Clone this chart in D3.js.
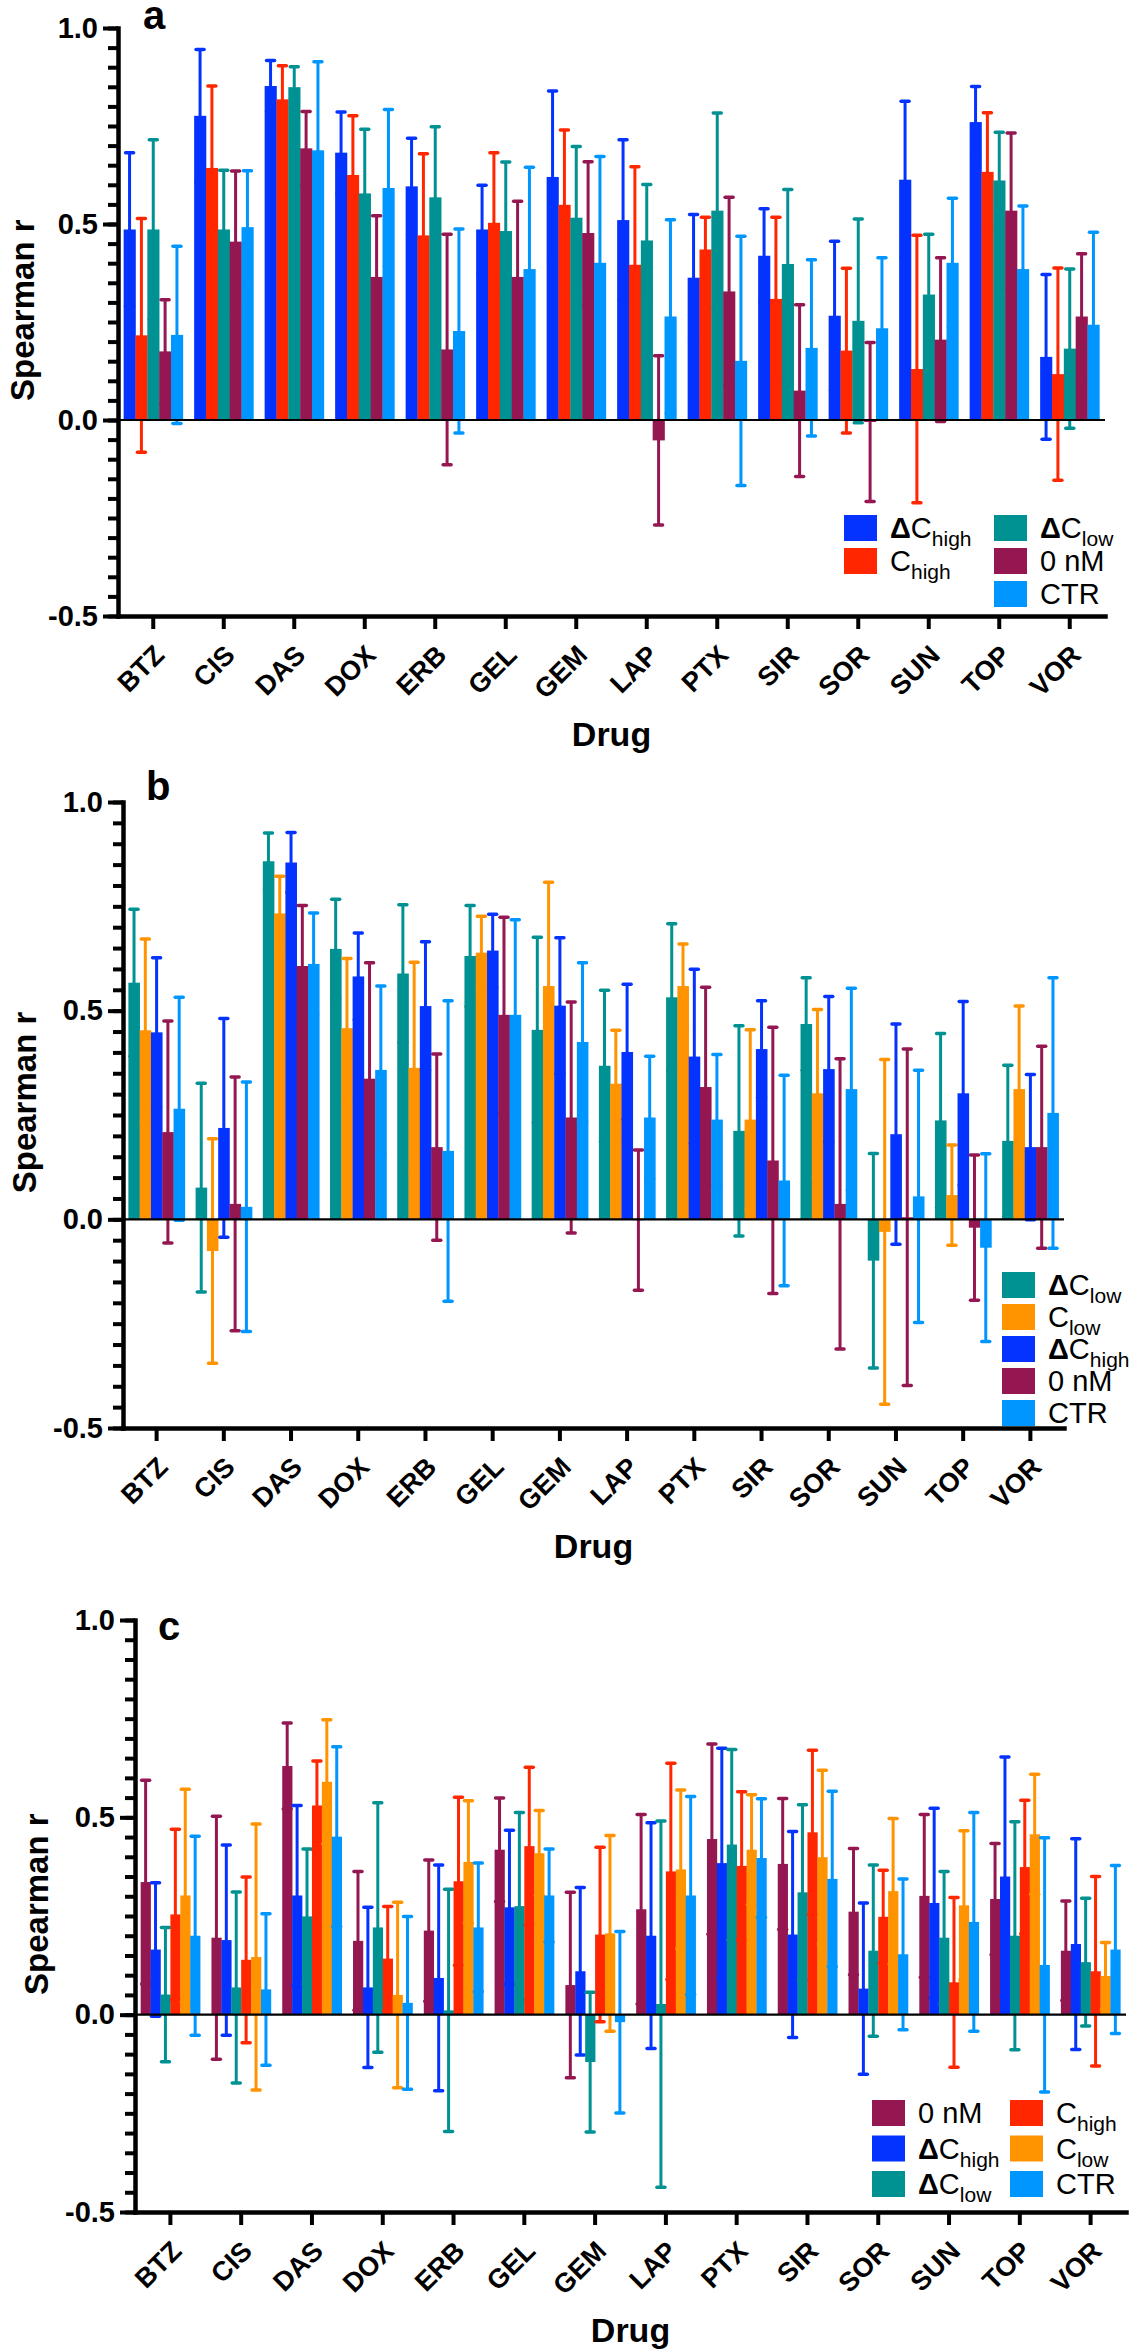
<!DOCTYPE html>
<html lang="en">
<head>
<meta charset="utf-8">
<script src="https://d3js.org/d3.v7.min.js"></script>
<title>Spearman r by drug</title>
<style>
  body { margin: 0; background: #fff; }
  text { font-family: "Liberation Sans", Arial, sans-serif; }
</style>
</head>
<body>
<div id="chart"></div>
<script>
// categories
const drugs = ["BTZ", "CIS", "DAS", "DOX", "ERB", "GEL", "GEM", "LAP", "PTX", "SIR", "SOR", "SUN", "TOP", "VOR"];
const yTicks = [-0.5, 0, 0.5, 1.0];

// panel a
const a_dChigh     = [0.486, 0.776, 0.852, 0.682, 0.596, 0.486, 0.620, 0.510, 0.363, 0.419, 0.266, 0.613, 0.760, 0.161];
const a_dChigh_err = [0.196, 0.169, 0.065, 0.104, 0.123, 0.113, 0.219, 0.205, 0.161, 0.120, 0.190, 0.200, 0.091, 0.210];
const a_Chigh      = [0.216, 0.643, 0.818, 0.625, 0.471, 0.503, 0.549, 0.396, 0.435, 0.309, 0.177, 0.130, 0.633, 0.117];
const a_Chigh_err  = [0.298, 0.209, 0.086, 0.151, 0.208, 0.179, 0.191, 0.250, 0.082, 0.208, 0.210, 0.341, 0.151, 0.271];
const a_dClow      = [0.486, 0.486, 0.849, 0.578, 0.568, 0.482, 0.516, 0.458, 0.534, 0.398, 0.253, 0.320, 0.611, 0.182];
const a_dClow_err  = [0.229, 0.151, 0.052, 0.164, 0.180, 0.176, 0.182, 0.143, 0.249, 0.190, 0.260, 0.154, 0.123, 0.203];
const a_nM0        = [0.175, 0.455, 0.693, 0.365, 0.180, 0.365, 0.477, -0.052, 0.328, 0.075, -0.005, 0.205, 0.534, 0.264];
const a_nM0_err    = [0.132, 0.180, 0.094, 0.156, 0.294, 0.193, 0.182, 0.216, 0.240, 0.219, 0.203, 0.209, 0.198, 0.160];
const a_CTR        = [0.217, 0.492, 0.688, 0.592, 0.227, 0.385, 0.401, 0.264, 0.151, 0.184, 0.234, 0.401, 0.385, 0.243];
const a_CTR_err    = [0.226, 0.144, 0.226, 0.200, 0.260, 0.260, 0.271, 0.247, 0.318, 0.225, 0.180, 0.165, 0.161, 0.236];

// panel b
const b_dClow      = [0.567, 0.076, 0.858, 0.648, 0.589, 0.631, 0.454, 0.368, 0.532, 0.212, 0.468, -0.099, 0.237, 0.188];
const b_dClow_err  = [0.176, 0.250, 0.068, 0.119, 0.165, 0.121, 0.222, 0.181, 0.176, 0.252, 0.111, 0.257, 0.208, 0.181];
const b_Clow       = [0.453, -0.076, 0.733, 0.458, 0.363, 0.639, 0.559, 0.325, 0.559, 0.239, 0.302, -0.030, 0.058, 0.312];
const b_Clow_err   = [0.219, 0.269, 0.089, 0.167, 0.253, 0.087, 0.249, 0.128, 0.101, 0.215, 0.201, 0.413, 0.120, 0.199];
const b_dChigh     = [0.448, 0.219, 0.855, 0.582, 0.511, 0.644, 0.512, 0.401, 0.390, 0.408, 0.360, 0.204, 0.302, 0.173];
const b_dChigh_err = [0.179, 0.262, 0.072, 0.104, 0.154, 0.087, 0.163, 0.162, 0.209, 0.116, 0.174, 0.264, 0.220, 0.174];
const b_nM0        = [0.209, 0.037, 0.607, 0.337, 0.173, 0.490, 0.244, -0.002, 0.317, 0.141, 0.037, 0.005, -0.020, 0.173];
const b_nM0_err    = [0.266, 0.304, 0.145, 0.278, 0.223, 0.234, 0.277, 0.168, 0.239, 0.319, 0.348, 0.403, 0.174, 0.242];
const b_CTR        = [0.265, 0.030, 0.612, 0.358, 0.164, 0.490, 0.425, 0.244, 0.239, 0.093, 0.312, 0.055, -0.068, 0.255];
const b_CTR_err    = [0.267, 0.299, 0.122, 0.201, 0.360, 0.228, 0.190, 0.147, 0.156, 0.252, 0.242, 0.302, 0.225, 0.324];

// panel c
const c_nM0        = [0.336, 0.195, 0.630, 0.187, 0.213, 0.418, 0.075, 0.267, 0.445, 0.382, 0.261, 0.301, 0.293, 0.162];
const c_nM0_err    = [0.258, 0.308, 0.109, 0.176, 0.179, 0.131, 0.235, 0.240, 0.241, 0.166, 0.160, 0.206, 0.141, 0.126];
const c_dChigh     = [0.165, 0.189, 0.302, 0.069, 0.093, 0.272, 0.110, 0.200, 0.384, 0.203, 0.066, 0.283, 0.350, 0.179];
const c_dChigh_err = [0.169, 0.241, 0.228, 0.203, 0.286, 0.195, 0.212, 0.286, 0.291, 0.261, 0.217, 0.240, 0.303, 0.267];
const c_dClow      = [0.051, 0.069, 0.249, 0.221, 0.011, 0.275, -0.120, 0.027, 0.431, 0.310, 0.162, 0.195, 0.200, 0.133];
const c_dClow_err  = [0.170, 0.242, 0.171, 0.316, 0.307, 0.237, 0.177, 0.464, 0.241, 0.222, 0.217, 0.168, 0.289, 0.162];
const c_Chigh      = [0.254, 0.139, 0.530, 0.142, 0.338, 0.427, 0.203, 0.363, 0.377, 0.462, 0.248, 0.082, 0.374, 0.110];
const c_Chigh_err  = [0.216, 0.210, 0.113, 0.132, 0.213, 0.200, 0.221, 0.274, 0.188, 0.208, 0.118, 0.215, 0.169, 0.240];
const c_Clow       = [0.302, 0.146, 0.590, 0.050, 0.387, 0.409, 0.206, 0.368, 0.418, 0.399, 0.313, 0.277, 0.457, 0.098];
const c_Clow_err   = [0.269, 0.337, 0.157, 0.235, 0.155, 0.108, 0.248, 0.201, 0.139, 0.220, 0.184, 0.189, 0.152, 0.085];
const c_CTR        = [0.200, 0.064, 0.451, 0.030, 0.221, 0.302, -0.019, 0.302, 0.397, 0.344, 0.153, 0.235, 0.126, 0.165];
const c_CTR_err    = [0.252, 0.192, 0.228, 0.219, 0.163, 0.118, 0.230, 0.251, 0.150, 0.222, 0.191, 0.277, 0.322, 0.213];

var colors = {
  nM0: "#941751", dChigh: "#0433ff", Chigh: "#ff2600",
  dClow: "#009193", Clow: "#ff9300", CTR: "#0096ff"
};
// [delta?, main, subscript]
var names = {
  nM0: [false, "0 nM", ""], dChigh: [true, "C", "high"], Chigh: [false, "C", "high"],
  dClow: [true, "C", "low"], Clow: [false, "C", "low"], CTR: [false, "CTR", ""]
};

var panels = [
  { letter: "a", left: 118, right: 1105, top: 28, bottom: 616, letterX: 143, letterY: 29, ylabX: 22,
    series: [["dChigh", a_dChigh, a_dChigh_err], ["Chigh", a_Chigh, a_Chigh_err], ["dClow", a_dClow, a_dClow_err],
             ["nM0", a_nM0, a_nM0_err], ["CTR", a_CTR, a_CTR_err]],
    legend: [{ x: 844, y: 515, step: 33, items: ["dChigh", "Chigh"] }, { x: 994, y: 515, step: 33, items: ["dClow", "nM0", "CTR"] }] },
  { letter: "b", left: 123, right: 1064, top: 802, bottom: 1428, letterX: 146, letterY: 800, ylabX: 24,
    series: [["dClow", b_dClow, b_dClow_err], ["Clow", b_Clow, b_Clow_err], ["dChigh", b_dChigh, b_dChigh_err],
             ["nM0", b_nM0, b_nM0_err], ["CTR", b_CTR, b_CTR_err]],
    legend: [{ x: 1002, y: 1272, step: 32, items: ["dClow", "Clow", "dChigh", "nM0", "CTR"] }] },
  { letter: "c", left: 135, right: 1126, top: 1620, bottom: 2212, letterX: 158, letterY: 1640, ylabX: 36,
    series: [["nM0", c_nM0, c_nM0_err], ["dChigh", c_dChigh, c_dChigh_err], ["dClow", c_dClow, c_dClow_err],
             ["Chigh", c_Chigh, c_Chigh_err], ["Clow", c_Clow, c_Clow_err], ["CTR", c_CTR, c_CTR_err]],
    legend: [{ x: 872, y: 2100, step: 35.5, items: ["nM0", "dChigh", "dClow"] }, { x: 1010, y: 2100, step: 35.5, items: ["Chigh", "Clow", "CTR"] }] }
];

var svg = d3.select("#chart").append("svg")
    .attr("width", 1137)
    .attr("height", 2352)
    .style("display", "block");

panels.forEach(drawPanel);

function drawPanel(p) {
  var g = svg.append("g");
  var y = d3.scaleLinear().domain([-0.5, 1.0]).range([p.bottom, p.top]);
  var x0 = d3.scaleBand().domain(drugs).range([p.left, p.right]).paddingInner(0.16).paddingOuter(0.08);
  var x1 = d3.scaleBand().domain(p.series.map(function(s) { return s[0]; })).range([0, x0.bandwidth()]);

  // bars + error bars
  p.series.forEach(function(s) {
    var key = s[0], vals = s[1], errs = s[2];
    var sg = g.append("g");
    sg.selectAll("rect").data(drugs).join("rect")
      .attr("x", function(d) { return x0(d) + x1(key); })
      .attr("width", x1.bandwidth() + 0.3)
      .attr("y", function(d, i) { return y(Math.max(0, vals[i])); })
      .attr("height", function(d, i) { return Math.abs(y(vals[i]) - y(0)); })
      .attr("fill", colors[key]);

    var eb = sg.selectAll("g.err").data(drugs).join("g").attr("class", "err")
      .attr("stroke", colors[key]);
    var cx = function(d) { return x0(d) + x1(key) + x1.bandwidth() / 2; };
    eb.append("line")
      .attr("x1", cx).attr("x2", cx)
      .attr("y1", function(d, i) { return y(vals[i] - errs[i]); })
      .attr("y2", function(d, i) { return y(vals[i] + errs[i]); })
      .attr("stroke-width", 3);
    [-1, 1].forEach(function(sgn) {
      eb.append("line")
        .attr("x1", function(d) { return cx(d) - 4; })
        .attr("x2", function(d) { return cx(d) + 4; })
        .attr("y1", function(d, i) { return y(vals[i] + sgn * errs[i]); })
        .attr("y2", function(d, i) { return y(vals[i] + sgn * errs[i]); })
        .attr("stroke-width", 3.5)
        .attr("stroke-linecap", "round");
    });
  });

  // zero line
  g.append("line")
    .attr("x1", p.left).attr("x2", p.right)
    .attr("y1", y(0)).attr("y2", y(0))
    .attr("stroke", "#000").attr("stroke-width", 2.2);

  // minor y ticks
  g.append("g")
    .attr("transform", "translate(" + p.left + ",0)")
    .call(d3.axisLeft(y).tickValues(d3.range(-10, 21).map(function(k) { return k * 0.05; }))
      .tickSize(10).tickSizeOuter(0).tickFormat(""))
    .call(function(a) { a.select(".domain").remove(); a.selectAll("line").attr("stroke-width", 4); });

  // major y axis
  g.append("g")
    .attr("transform", "translate(" + p.left + ",0)")
    .call(d3.axisLeft(y).tickValues(yTicks).tickSize(15).tickSizeOuter(0).tickPadding(5)
      .tickFormat(function(d) { return d.toFixed(1); }))
    .call(function(a) {
      a.select(".domain").attr("stroke-width", 4.5).attr("stroke-linecap", "square");
      a.selectAll("line").attr("stroke-width", 4);
      a.selectAll("text").attr("font-size", 29).attr("font-weight", "bold").attr("fill", "#000")
        .attr("font-family", "Liberation Sans, Arial, sans-serif");
    });

  // x axis
  g.append("g")
    .attr("transform", "translate(0," + p.bottom + ")")
    .call(d3.axisBottom(x0).tickSize(13).tickSizeOuter(0))
    .call(function(a) {
      a.select(".domain").attr("stroke-width", 4.5).attr("stroke-linecap", "square");
      a.selectAll("line").attr("stroke-width", 4);
      a.selectAll("text")
        .attr("x", 0).attr("y", 0).attr("dy", "0.35em")
        .attr("transform", "translate(6,34) rotate(-45)")
        .attr("text-anchor", "end")
        .attr("font-size", 27).attr("font-weight", "bold").attr("fill", "#000")
        .attr("font-family", "Liberation Sans, Arial, sans-serif");
    });

  // titles
  g.append("text")
    .attr("transform", "translate(" + p.ylabX + "," + y(0.28) + ") rotate(-90)")
    .attr("text-anchor", "middle").attr("dy", "0.35em")
    .attr("font-size", 33).attr("font-weight", "bold")
    .text("Spearman r");
  g.append("text")
    .attr("x", (p.left + p.right) / 2).attr("y", p.bottom + 130)
    .attr("text-anchor", "middle")
    .attr("font-size", 34).attr("font-weight", "bold")
    .text("Drug");
  g.append("text")
    .attr("x", p.letterX).attr("y", p.letterY)
    .attr("font-size", 40).attr("font-weight", "bold")
    .text(p.letter);

  // legend
  p.legend.forEach(function(col) {
    col.items.forEach(function(key, i) {
      var ly = col.y + i * col.step;
      g.append("rect").attr("x", col.x).attr("y", ly).attr("width", 33).attr("height", 26)
        .attr("fill", colors[key]);
      var t = g.append("text").attr("x", col.x + 46).attr("y", ly + 23).attr("font-size", 29);
      var nm = names[key];
      if (nm[0]) t.append("tspan").attr("font-weight", "bold").text("\u0394");
      t.append("tspan").text(nm[1]);
      if (nm[2]) t.append("tspan").attr("font-size", 21).attr("dy", 8).text(nm[2]);
    });
  });
}
</script>
</body>
</html>
